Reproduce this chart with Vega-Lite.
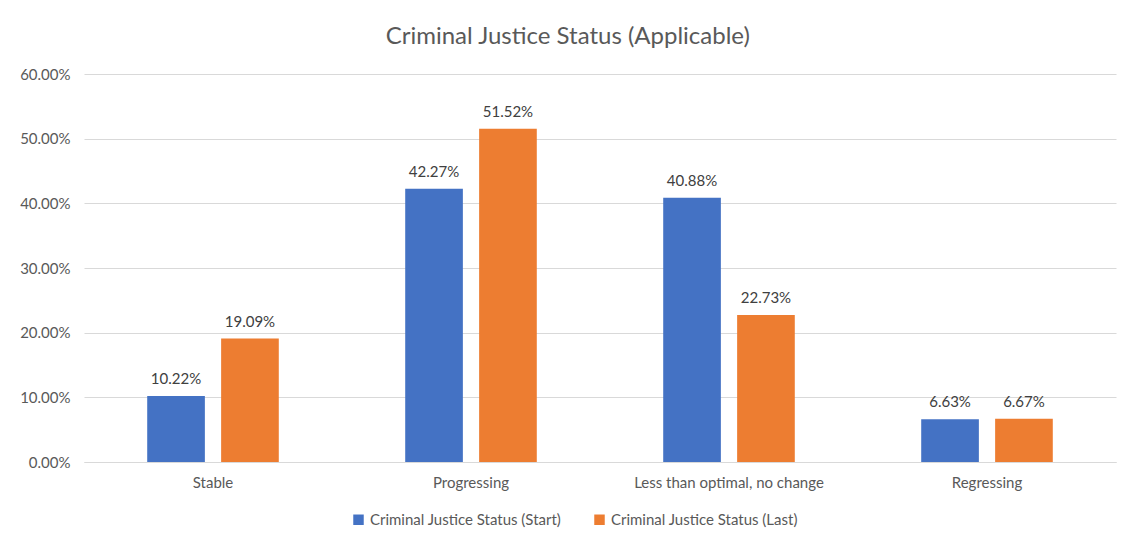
{
  "$schema": "https://vega.github.io/schema/vega-lite/v6.json",
  "autosize": {"type": "none"},
  "width": 1032,
  "height": 388,
  "padding": {"left": 84, "top": 74, "right": 8, "bottom": 80},
  "background": "white",
  "config": {"view": {"stroke": null}},
  "title": {
    "text": "Criminal Justice Status (Applicable)",
    "font": "Lato",
    "fontSize": 24,
    "fontWeight": "normal",
    "color": "#595959",
    "anchor": "middle",
    "frame": "bounds",
    "offset": 18
  },
  "data": {
    "values": [
      {"status": "Stable", "series": "Criminal Justice Status (Start)", "value": 0.1022},
      {"status": "Stable", "series": "Criminal Justice Status (Last)", "value": 0.1909},
      {"status": "Progressing", "series": "Criminal Justice Status (Start)", "value": 0.4227},
      {"status": "Progressing", "series": "Criminal Justice Status (Last)", "value": 0.5152},
      {"status": "Less than optimal, no change", "series": "Criminal Justice Status (Start)", "value": 0.4088},
      {"status": "Less than optimal, no change", "series": "Criminal Justice Status (Last)", "value": 0.2273},
      {"status": "Regressing", "series": "Criminal Justice Status (Start)", "value": 0.0663},
      {"status": "Regressing", "series": "Criminal Justice Status (Last)", "value": 0.0667}
    ]
  },
  "encoding": {
    "x": {
      "field": "status",
      "type": "nominal",
      "sort": null,
      "scale": {"paddingInner": 0.49, "paddingOuter": 0.245},
      "axis": {
        "title": null,
        "labelAngle": 0,
        "ticks": false,
        "domainColor": "#d9d9d9",
        "labelFont": "Lato",
        "labelFontSize": 15,
        "labelColor": "#595959",
        "labelPadding": 13,
        "labelLimit": 0
      }
    },
    "xOffset": {
      "field": "series",
      "type": "nominal",
      "sort": ["Criminal Justice Status (Start)", "Criminal Justice Status (Last)"],
      "scale": {"paddingInner": 0.22, "paddingOuter": 0}
    },
    "y": {
      "field": "value",
      "type": "quantitative",
      "scale": {"domain": [0, 0.6], "nice": false},
      "axis": {
        "title": null,
        "format": ".2%",
        "values": [0, 0.1, 0.2, 0.3, 0.4, 0.5, 0.6],
        "labelOverlap": false,
        "domain": false,
        "ticks": false,
        "gridColor": "#d9d9d9",
        "labelFont": "Lato",
        "labelFontSize": 15,
        "labelColor": "#595959",
        "labelPadding": 14
      }
    }
  },
  "layer": [
    {
      "mark": {"type": "bar"},
      "encoding": {
        "color": {
          "field": "series",
          "type": "nominal",
          "sort": ["Criminal Justice Status (Start)", "Criminal Justice Status (Last)"],
          "scale": {"range": ["#4472C4", "#ED7D31"]},
          "legend": {
            "title": null,
            "orient": "none",
            "legendX": 267,
            "legendY": 438,
            "direction": "horizontal",
            "symbolType": "square",
            "symbolSize": 110,
            "symbolStrokeWidth": 0,
            "labelFont": "Lato",
            "labelFontSize": 15,
            "labelColor": "#595959",
            "labelLimit": 0,
            "columnPadding": 30,
            "labelOffset": 4
          }
        }
      }
    },
    {
      "mark": {"type": "text", "baseline": "bottom", "dy": -9, "font": "Lato", "fontSize": 15, "color": "#404040"},
      "encoding": {
        "text": {"field": "value", "type": "quantitative", "format": ".2%"}
      }
    }
  ]
}
